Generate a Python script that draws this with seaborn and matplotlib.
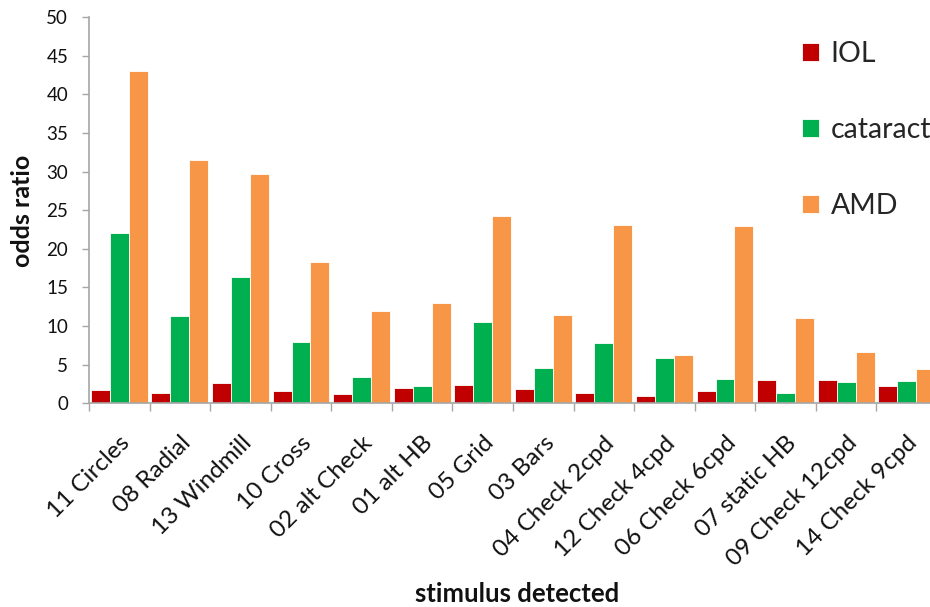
import matplotlib
matplotlib.use("Agg")
import matplotlib.pyplot as plt
import seaborn as sns
import pandas as pd
import numpy as np

# values
stimuli = ["11 Circles", "08 Radial", "13 Windmill", "10 Cross", "02 alt Check",
           "01 alt HB", "05 Grid", "03 Bars", "04 Check 2cpd", "12 Check 4cpd",
           "06 Check 6cpd", "07 static HB", "09 Check 12cpd", "14 Check 9cpd"]
iol = [1.7, 1.3, 2.6, 1.6, 1.2, 2.0, 2.4, 1.8, 1.3, 1.0, 1.6, 3.0, 3.0, 2.2]
cataract = [22.0, 11.3, 16.4, 7.9, 3.4, 2.3, 10.5, 4.6, 7.8, 5.8, 3.2, 1.3, 2.7, 2.9]
amd = [43.0, 31.5, 29.7, 18.3, 12.0, 13.0, 24.2, 11.4, 23.1, 6.3, 23.0, 11.1, 6.6, 4.5]
groups = ["IOL", "cataract", "AMD"]
colors = ["#C00000", "#00B050", "#F79646"]

df = pd.DataFrame({
    "stimulus": stimuli * 3,
    "odds": iol + cataract + amd,
    "group": [g for g in groups for _ in stimuli],
})

sns.set_style("white")
plt.rcParams["font.family"] = ["Lato", "DejaVu Sans"]

fig = plt.figure(figsize=(9.3, 6.07), dpi=100)
ax = fig.add_axes([89 / 930, 1 - 403.3 / 607, 848 / 930, (403.3 - 17) / 607])

sns.barplot(data=df, x="stimulus", y="odds", hue="group", order=stimuli,
            hue_order=groups, palette=colors, width=0.94, errorbar=None,
            edgecolor="#ffffff", linewidth=0.6, saturation=1, ax=ax)

ax.set_xlim(-0.5, 13.5)
ax.set_ylim(0, 50)
ax.set_yticks(np.arange(0, 51, 5))
ax.tick_params(axis="y", labelsize=13.5, length=5, width=1, color="#A6A6A6",
               direction="out", left=True, pad=10, labelcolor="#111111")

# tick marks between categories, labels at centres
ax.set_xticks(np.arange(-0.5, 14, 1), minor=True)
ax.tick_params(axis="x", which="minor", length=6, width=1, color="#A6A6A6", bottom=True)
ax.tick_params(axis="x", which="major", length=0, labelsize=17.5, pad=21,
               labelcolor="#111111")
plt.setp(ax.get_xticklabels(), rotation=45, ha="right", rotation_mode="anchor")

for s in ["top", "right"]:
    ax.spines[s].set_visible(False)
for s in ["left", "bottom"]:
    ax.spines[s].set_color("#A6A6A6")
    ax.spines[s].set_linewidth(1.2)

ax.set_ylabel("")
ax.set_xlabel("")
fig.text(23 / 930, 1 - 211 / 607, "odds ratio", fontsize=18, fontweight="bold",
         rotation=90, ha="center", va="center", color="#111111")
fig.text(517 / 930, 1 - 602 / 607, "stimulus detected", fontsize=18.5,
         fontweight="bold", ha="center", va="baseline", color="#111111")

handles, labels = ax.get_legend_handles_labels()
ax.legend(handles, labels, loc="upper left", bbox_to_anchor=(791 / 930, 1 - 30 / 607),
          bbox_transform=fig.transFigure, frameon=False, fontsize=20.5,
          handlelength=0.6, handleheight=0.6, handletextpad=0.4,
          labelspacing=1.75, borderaxespad=0)

fig.savefig("out.png", dpi=100)
